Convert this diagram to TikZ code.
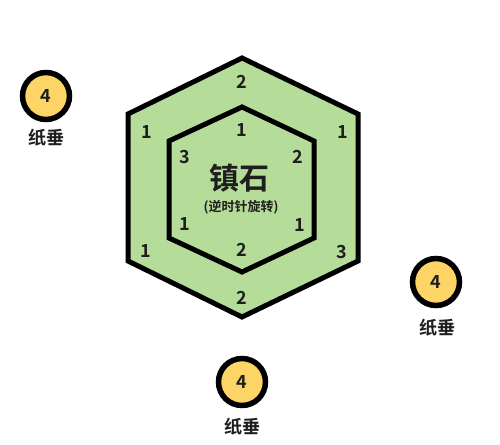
\documentclass[tikz,border=0pt]{standalone}
\usepackage{fontspec}
\setmainfont{Noto Sans CJK SC}[BoldFont={* Bold}]
\definecolor{hexgreen}{HTML}{B5DC99}
\definecolor{paperyellow}{HTML}{FDD466}
\definecolor{ink}{HTML}{1E1E1E}
\begin{document}
\begin{tikzpicture}[x=1pt,y=-1pt,
  hexline/.style={line width=5pt,line join=miter,draw=black},
  num/.style={font=\fontsize{18}{18}\selectfont\bfseries,text=ink,inner sep=0pt},
  paper/.style={circle,draw=black,line width=5.5pt,fill=paperyellow,minimum size=47pt,inner sep=0pt,text=ink,font=\fontsize{18}{18}\selectfont\bfseries},
  papercap/.style={font=\fontsize{18}{18}\selectfont\bfseries,inner sep=0pt,text=ink}]
\useasboundingbox (0,0) rectangle (500,444);
% outer hexagon
\coordinate (o1) at (242,58);
\coordinate (o2) at (358,114);
\coordinate (o3) at (358,261);
\coordinate (o4) at (242,317);
\coordinate (o5) at (128,261);
\coordinate (o6) at (128,114);
\draw[hexline,fill=hexgreen] (o1)--(o2)--(o3)--(o4)--(o5)--(o6)--cycle;
% inner hexagon
\coordinate (i1) at (242,107);
\coordinate (i2) at (314,141);
\coordinate (i3) at (314,238);
\coordinate (i4) at (242,272);
\coordinate (i5) at (169,238);
\coordinate (i6) at (169,141);
\draw[hexline] (i1)--(i2)--(i3)--(i4)--(i5)--(i6)--cycle;
% outer labels
\node[num] (ot) at (242,82) {2};
\node[num] (oul) at (147,132) {1};
\node[num] (our) at (343,132) {1};
\node[num] (oll) at (146,251) {1};
\node[num] (olr) at (342,252) {3};
\node[num] (ob) at (242,298) {2};
% inner labels
\node[num] (it) at (242,130) {1};
\node[num] (iul) at (185,157) {3};
\node[num] (iur) at (298,157) {2};
\node[num] (ill) at (185,224) {1};
\node[num] (ilr) at (300,225) {1};
\node[num] (ib) at (242,250) {2};
% center text
\node[font=\fontsize{30}{30}\selectfont\bfseries,inner sep=0pt,text=ink] (title) at (239,178) {镇石};
\node[font=\fontsize{13}{13}\selectfont\bfseries,inner sep=0pt,text=ink] (sub) at (241,207) {(逆时针旋转)};
% paper weights
\node[paper] (p1) at (46,96) {4};
\node[papercap] (c1) at (46,138) {纸垂};
\node[paper] (p2) at (436,282) {4};
\node[papercap] (c2) at (437,328) {纸垂};
\node[paper] (p3) at (242,382) {4};
\node[papercap] (c3) at (242,427) {纸垂};
\end{tikzpicture}
\end{document}
